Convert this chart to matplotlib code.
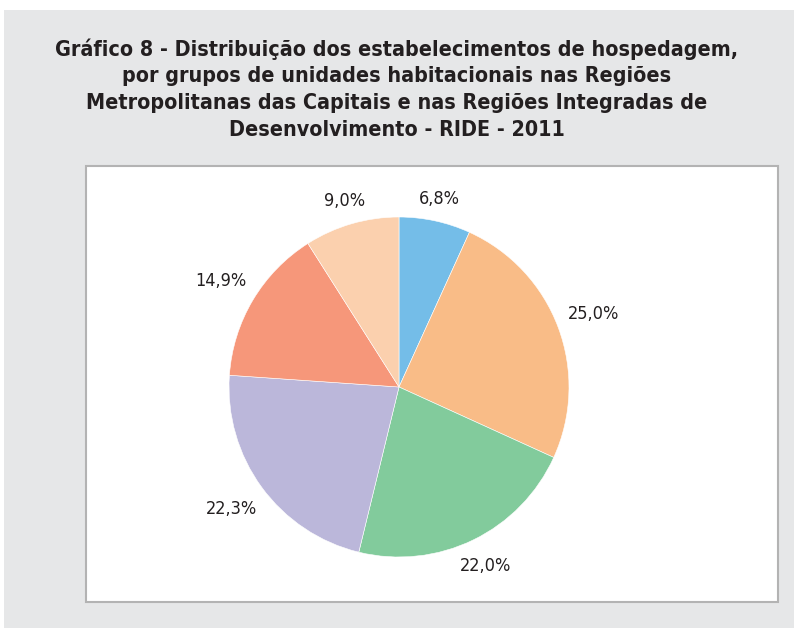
import numpy as np
import matplotlib
matplotlib.use("Agg")
import matplotlib.pyplot as plt
from matplotlib.patches import Rectangle

title = ("Gráfico 8 - Distribuição dos estabelecimentos de hospedagem,\n"
         "por grupos de unidades habitacionais nas Regiões\n"
         "Metropolitanas das Capitais e nas Regiões Integradas de\n"
         "Desenvolvimento - RIDE - 2011")
values = [6.8, 25.0, 22.0, 22.3, 14.9, 9.0]
labels = ["6,8%", "25,0%", "22,0%", "22,3%", "14,9%", "9,0%"]
colors = ["#74bde8", "#f9bc87", "#82cb9c", "#bbb7da", "#f6977a", "#fbd0ae"]

W, H = 794, 628
fig = plt.figure(figsize=(W / 100, H / 100), dpi=100)
fig.patch.set_facecolor("white")

def px(x0, y0, x1, y1):
    return [x0 / W, 1 - y1 / H, (x1 - x0) / W, (y1 - y0) / H]

bg = fig.add_axes([0, 0, 1, 1])
bg.set_xlim(0, W); bg.set_ylim(H, 0); bg.axis("off")
bg.add_patch(Rectangle((4, 10), W - 4, H - 10, facecolor="#e6e7e8", edgecolor="none"))
bg.add_patch(Rectangle((86, 166), 692, 436, facecolor="white", edgecolor="#b3b3b3", linewidth=1.5))

bg.text(397, 89, title, ha="center", va="center", fontsize=15.4, fontweight="bold",
        family="DejaVu Sans", fontstretch="condensed", color="#231f20", linespacing=1.42)

cx, cy, R = 399, 387, 170
ax = fig.add_axes(px(cx - R, cy - R, cx + R, cy + R))
wedges, _ = ax.pie(values, colors=colors, startangle=90, counterclock=False,
                   wedgeprops=dict(linewidth=0.4, edgecolor="white"))
ax.set_xlim(-1, 1); ax.set_ylim(-1, 1); ax.set_aspect("equal")

hw, hh = 35 / R, 15 / R
for w, lab in zip(wedges, labels):
    ang = np.deg2rad((w.theta1 + w.theta2) / 2)
    c, s = np.cos(ang), np.sin(ang)
    r = 1 + hw * abs(c) + hh * abs(s)
    ax.text(r * c, r * s, lab, ha="center", va="center", fontsize=13,
            family="DejaVu Sans", fontstretch="condensed", color="#231f20",
            clip_on=False)

fig.savefig("out.png", dpi=100, facecolor=fig.get_facecolor())
